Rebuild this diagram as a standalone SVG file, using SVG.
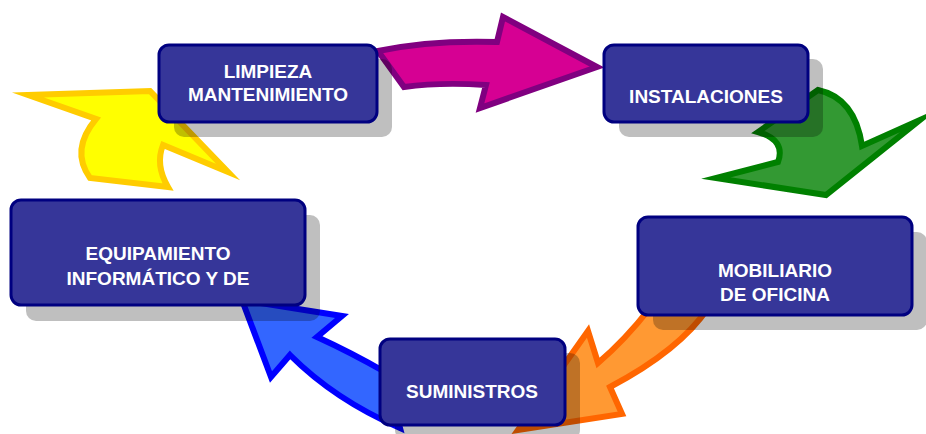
<svg xmlns="http://www.w3.org/2000/svg" width="926" height="434" viewBox="0 0 926 434">
<style>
.arrow{stroke-width:6;stroke-linejoin:miter;stroke-miterlimit:10}
.shadow{fill:#000;fill-opacity:0.25}
.box{fill:#363699;stroke:#000080;stroke-width:3}
.lbl{font-family:"Liberation Sans",Arial,sans-serif;font-weight:bold;font-size:19px;fill:#fff;text-anchor:middle}
</style>
<rect width="926" height="434" fill="#fff"/>
<g id="connectors">
<path class="arrow" fill="#D60093" stroke="#800080" d="M378,51 Q430,40 497,42 L503,17 L597,67 L480,108 L486,85 Q440,82 404,87 Z"/>
<path class="arrow" fill="#339933" stroke="#008000" d="M862,146 Q855,98 818,90 L758,132 Q786,140 778,162 L716,178 L826,195 L920,120 Z"/>
<path class="arrow" fill="#FF9933" stroke="#FF6600" d="M518,430 L588,331 L598,363 Q625,340 650,308 L708,308 Q680,350 610,387 L622,414 Z"/>
<path class="arrow" fill="#3366FF" stroke="#0000FF" d="M242,300 L342,316 L317,337 Q350,352 385,372 L400,428 Q335,400 290,355 L271,377 Z"/>
<path class="arrow" fill="#FFFF00" stroke="#FFCC00" d="M168,187 L90,178 Q70,150 96,119 L28,95 L150,91 L228,172 L163,145 Q155,165 168,187 Z"/>
</g>
<g id="shadows">
<rect class="shadow" x="174" y="59" width="218" height="78" rx="10"/>
<rect class="shadow" x="619" y="59" width="204" height="78" rx="10"/>
<rect class="shadow" x="653" y="232" width="274" height="98" rx="10"/>
<rect class="shadow" x="395" y="353" width="185" height="87" rx="10"/>
<rect class="shadow" x="26" y="215" width="294" height="106" rx="10"/>
</g>
<g id="limpieza">
<rect class="box" x="159" y="45" width="218" height="77" rx="10"/>
<text class="lbl" x="268" y="78">LIMPIEZA</text>
<text class="lbl" x="268" y="101">MANTENIMIENTO</text>
</g>
<g id="instalaciones">
<rect class="box" x="604" y="45" width="204" height="77" rx="10"/>
<text class="lbl" x="706" y="103">INSTALACIONES</text>
</g>
<g id="mobiliario">
<rect class="box" x="638" y="217" width="274" height="98" rx="10"/>
<text class="lbl" x="775" y="277">MOBILIARIO</text>
<text class="lbl" x="775" y="301">DE OFICINA</text>
</g>
<g id="suministros">
<rect class="box" x="380" y="339" width="185" height="86" rx="10"/>
<text class="lbl" x="472" y="398">SUMINISTROS</text>
</g>
<g id="equipamiento">
<rect class="box" x="11" y="200" width="294" height="105" rx="10"/>
<text class="lbl" x="158" y="260">EQUIPAMIENTO</text>
<text class="lbl" x="158" y="285">INFORMÁTICO Y DE</text>
</g>
</svg>
